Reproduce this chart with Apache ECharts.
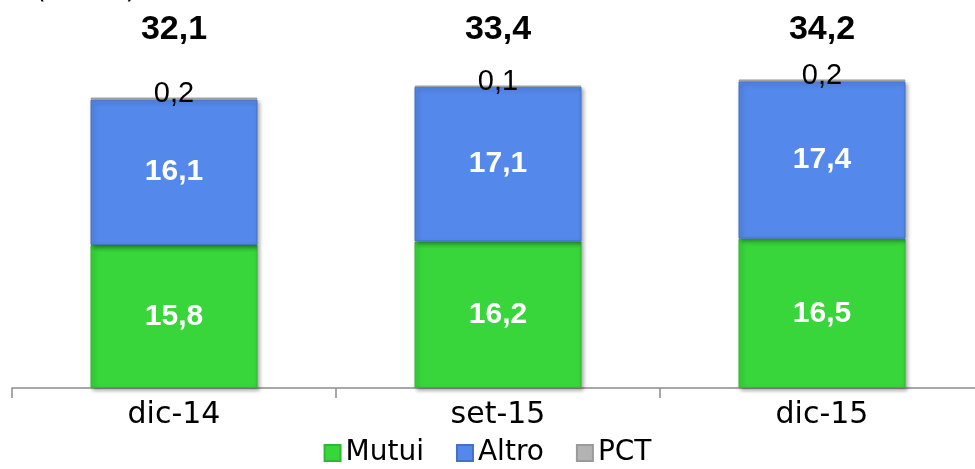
<!DOCTYPE html>
<html>
<head>
<meta charset="utf-8">
<script src="https://cdn.jsdelivr.net/npm/echarts@6/dist/echarts.min.js"></script>
<style>
  html, body { margin: 0; padding: 0; background: #fff; }
  #chart { width: 975px; height: 469px; }
</style>
</head>
<body>
<div id="chart"></div>
<script>
const categories = ['dic-14', 'set-15', 'dic-15']
const mutui = [15.8, 16.2, 16.5]
const altro = [16.1, 17.1, 17.4]
const pct = [0.2, 0.1, 0.2]
const totals = [32.1, 33.4, 34.2]

const fmt = v => String(v).replace('.', ',')
const textFont = "'DejaVu Sans', sans-serif"
const numFont = "'Liberation Sans', Arial, sans-serif"

const chart = echarts.init(document.getElementById('chart'))

const barLabel = {
  show: true,
  position: 'inside',
  color: '#fff',
  fontWeight: 'bold',
  fontSize: 30,
  fontFamily: numFont,
  formatter: p => fmt(p.value)
}

const shadow = {
  shadowColor: 'rgba(0,0,0,0.35)',
  shadowBlur: 4,
  shadowOffsetX: 2,
  shadowOffsetY: 2
}

chart.setOption({
  animation: false,
  title: {
    text: '(€ mld)',
    left: 30,
    top: -28,
    textStyle: { fontSize: 28, fontWeight: 'normal', color: '#000', fontFamily: textFont }
  },
  grid: { left: 12, right: -9, top: 8, bottom: 81, outerBoundsMode: 'none' },
  legend: {
    bottom: -3,
    left: 'center',
    itemWidth: 16,
    itemHeight: 16,
    itemGap: 32,
    icon: 'rect',
    textStyle: { fontSize: 28, color: '#000', fontFamily: textFont },
    data: ['Mutui', 'Altro', 'PCT']
  },
  xAxis: [
    {
      type: 'category',
      data: categories,
      axisLine: { lineStyle: { color: '#8c8c8c', width: 1.5 } },
      axisTick: { show: true, length: 10, lineStyle: { color: '#8c8c8c', width: 1.5 } },
      axisLabel: { fontSize: 30, color: '#000', fontFamily: textFont, margin: 12 }
    },
    {
      type: 'category',
      position: 'top',
      data: totals.map(fmt),
      axisLine: { show: false },
      axisTick: { show: false },
      axisLabel: { inside: true, margin: 5, fontSize: 34, fontWeight: 'bold', color: '#000', fontFamily: numFont }
    }
  ],
  yAxis: { type: 'value', min: 0, max: 42, show: false, splitLine: { show: false } },
  series: [
    {
      name: 'Mutui',
      type: 'bar',
      stack: 'tot',
      data: mutui,
      barWidth: 167,
      itemStyle: Object.assign({ color: '#38d63b', borderColor: '#2fb833', borderWidth: 1 }, shadow),
      label: barLabel
    },
    {
      name: 'Altro',
      type: 'bar',
      stack: 'tot',
      data: altro,
      barWidth: 167,
      itemStyle: Object.assign({ color: '#5488eb', borderColor: '#4670c4', borderWidth: 1 }, shadow),
      label: barLabel
    },
    {
      name: 'PCT',
      type: 'bar',
      stack: 'tot',
      data: pct,
      barWidth: 167,
      itemStyle: { color: '#b3b3b3', borderColor: '#9a9a9a', borderWidth: 1 },
      label: {
        show: true,
        position: 'inside',
        offset: [0, -4],
        color: '#000',
        fontSize: 29,
        fontFamily: numFont,
        formatter: p => fmt(p.value)
      }
    }
  ]
})
</script>
</body>
</html>
